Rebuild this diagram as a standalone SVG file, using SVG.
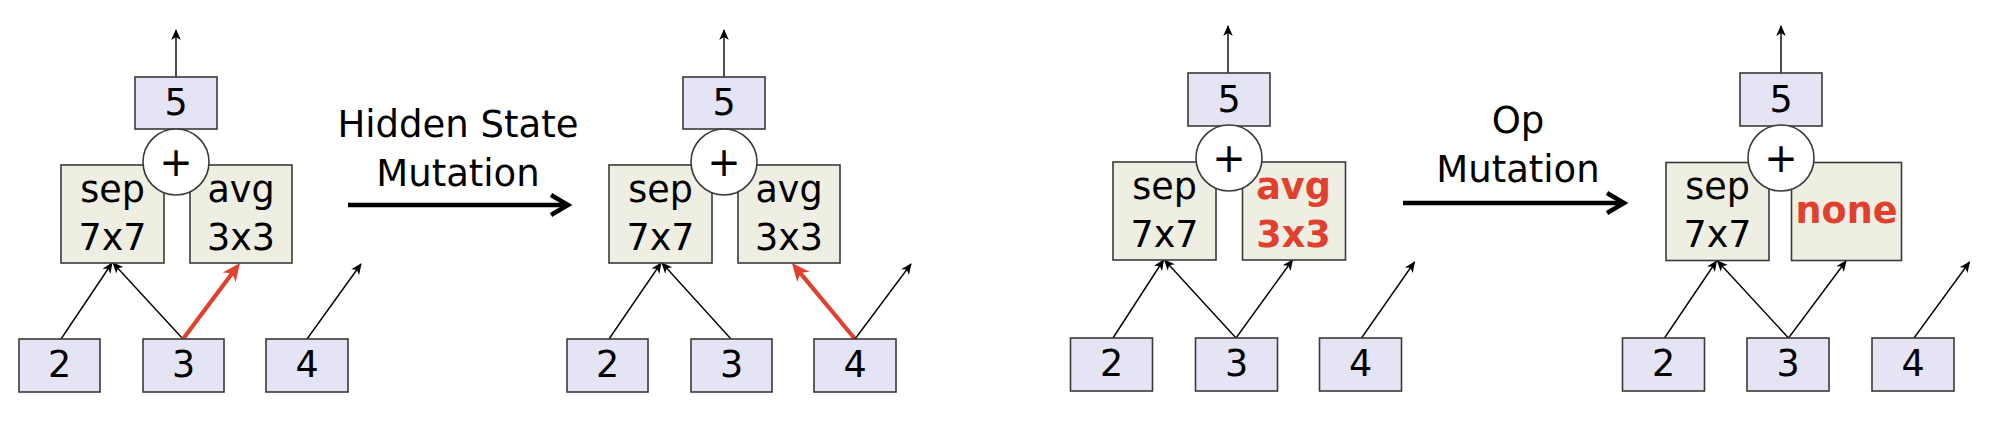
<svg xmlns="http://www.w3.org/2000/svg" width="1999" height="435" viewBox="0 0 1999 435">
<style>
.st{fill:#e4e4f4;stroke:#3a3a3a;stroke-width:1.6}
.op{fill:#efeee3;stroke:#3a3a3a;stroke-width:1.6}
.pl{fill:#ffffff;stroke:#3a3a3a;stroke-width:1.6}
text{font-family:"DejaVu Sans","Liberation Sans",sans-serif;font-size:36.5px;fill:#000;text-anchor:middle}
.lbl{font-size:37px}
.plus{font-size:40px}
.red{fill:#e0402e;font-weight:bold}
.e{stroke:#000;stroke-width:1.4;fill:none;marker-end:url(#ah)}
.er{stroke:#e0402e;stroke-width:4.2;fill:none;marker-end:url(#ahr)}
.big{stroke:#000;stroke-width:4.5;fill:none;marker-end:url(#chev)}
</style>
<defs>
<marker id="ah" markerUnits="userSpaceOnUse" markerWidth="20" markerHeight="20" orient="auto" overflow="visible" refX="0" refY="0">
<path d="M1,0 L-10,-4.8 L-7,0 L-10,4.8 Z" fill="#000"/>
</marker>
<marker id="ahr" markerUnits="userSpaceOnUse" markerWidth="30" markerHeight="30" orient="auto" overflow="visible" refX="0" refY="0">
<path d="M8,0 L-10,-8 L-5,0 L-10,8 Z" fill="#e0402e"/>
</marker>
<marker id="chev" markerUnits="userSpaceOnUse" markerWidth="40" markerHeight="40" orient="auto" overflow="visible" refX="0" refY="0">
<path d="M-17,-10 L0,0 L-17,10" fill="none" stroke="#000" stroke-width="4.5"/>
</marker>
</defs>
<rect width="1999" height="435" fill="#ffffff"/>

<g id="connectors">
<g transform="translate(0,0)">
<line class="e" x1="176" y1="77" x2="176" y2="30"/>
<line class="e" x1="61" y1="339" x2="112" y2="263"/>
<line class="e" x1="183" y1="339" x2="113" y2="263"/>
<line class="er" x1="183" y1="339" x2="235.2" y2="269.3"/>
<line class="e" x1="307" y1="339" x2="361" y2="264"/>
</g>
<g transform="translate(548,0)">
<line class="e" x1="176" y1="77" x2="176" y2="30"/>
<line class="e" x1="61" y1="339" x2="113" y2="263"/>
<line class="e" x1="183" y1="339" x2="114" y2="263"/>
<line class="er" x1="307" y1="339" x2="249" y2="269.2"/>
<line class="e" x1="307" y1="339" x2="363" y2="264"/>
</g>
<g transform="translate(1052,-3)">
<line class="e" x1="176" y1="76" x2="176" y2="29"/>
<line class="e" x1="61" y1="341" x2="111.5" y2="263"/>
<line class="e" x1="184" y1="341" x2="112.5" y2="263"/>
<line class="e" x1="184" y1="341" x2="240.5" y2="263"/>
<line class="e" x1="309.5" y1="341" x2="362.5" y2="265"/>
</g>
<g transform="translate(1605,-3)">
<line class="e" x1="176" y1="76" x2="176" y2="29"/>
<line class="e" x1="59.5" y1="341" x2="111.5" y2="264"/>
<line class="e" x1="183.5" y1="341" x2="112.5" y2="264"/>
<line class="e" x1="183.5" y1="341" x2="241" y2="264"/>
<line class="e" x1="309" y1="341" x2="364.5" y2="265"/>
</g>
<line class="big" x1="348" y1="205" x2="568" y2="205"/>
<line class="big" x1="1403" y1="203" x2="1624" y2="203"/>
</g>

<g id="label-hidden">
<text class="lbl" x="458" y="137">Hidden State</text>
<text class="lbl" x="458" y="186">Mutation</text>
</g>
<g id="label-op">
<text class="lbl" x="1518" y="133">Op</text>
<text class="lbl" x="1518" y="182">Mutation</text>
</g>

<!-- Panel 1 -->
<g transform="translate(0,0)">
<g id="p1-n5"><rect class="st" x="135" y="77" width="82" height="52"/><text x="176" y="115">5</text></g>
<g id="p1-sep"><rect class="op" x="61" y="165" width="103" height="98"/><text x="112.5" y="202">sep</text><text x="112.5" y="250">7x7</text></g>
<g id="p1-avg"><rect class="op" x="190" y="165" width="102" height="98"/><text x="241" y="202">avg</text><text x="241" y="250">3x3</text></g>
<g id="p1-add"><circle class="pl" cx="176" cy="162" r="33"/><text class="plus" x="176" y="175.5">+</text></g>
<g id="p1-n2"><rect class="st" x="19" y="339" width="81" height="53"/><text x="59.5" y="377">2</text></g>
<g id="p1-n3"><rect class="st" x="143" y="339" width="81" height="53"/><text x="183.5" y="377">3</text></g>
<g id="p1-n4"><rect class="st" x="266" y="339" width="82" height="53"/><text x="307" y="377">4</text></g>
</g>

<!-- Panel 2 -->
<g transform="translate(548,0)">
<g id="p2-n5"><rect class="st" x="135" y="77" width="82" height="52"/><text x="176" y="115">5</text></g>
<g id="p2-sep"><rect class="op" x="61" y="165" width="103" height="98"/><text x="112.5" y="202">sep</text><text x="112.5" y="250">7x7</text></g>
<g id="p2-avg"><rect class="op" x="190" y="165" width="102" height="98"/><text x="241" y="202">avg</text><text x="241" y="250">3x3</text></g>
<g id="p2-add"><circle class="pl" cx="176" cy="162" r="33"/><text class="plus" x="176" y="175.5">+</text></g>
<g id="p2-n2"><rect class="st" x="19" y="339" width="81" height="53"/><text x="59.5" y="377">2</text></g>
<g id="p2-n3"><rect class="st" x="143" y="339" width="81" height="53"/><text x="183.5" y="377">3</text></g>
<g id="p2-n4"><rect class="st" x="266" y="339" width="82" height="53"/><text x="307" y="377">4</text></g>
</g>

<!-- Panel 3 -->
<g transform="translate(1052,-3)">
<g id="p3-n5"><rect class="st" x="136" y="76" width="82" height="53"/><text x="177" y="115">5</text></g>
<g id="p3-sep"><rect class="op" x="61" y="165" width="103" height="98"/><text x="112.5" y="202">sep</text><text x="112.5" y="250">7x7</text></g>
<g id="p3-avg"><rect class="op" x="190.5" y="165" width="103" height="98"/><text class="red" x="241.5" y="202">avg</text><text class="red" x="241.5" y="250">3x3</text></g>
<g id="p3-add"><circle class="pl" cx="177" cy="161" r="33"/><text class="plus" x="177" y="174.5">+</text></g>
<g id="p3-n2"><rect class="st" x="18.5" y="341" width="82" height="53"/><text x="59.5" y="379">2</text></g>
<g id="p3-n3"><rect class="st" x="143.5" y="341" width="82" height="53"/><text x="184.5" y="379">3</text></g>
<g id="p3-n4"><rect class="st" x="267.5" y="341" width="82" height="53"/><text x="308.5" y="379">4</text></g>
</g>

<!-- Panel 4 -->
<g transform="translate(1605,-3)">
<g id="p4-n5"><rect class="st" x="135" y="76" width="82" height="53"/><text x="176" y="115">5</text></g>
<g id="p4-sep"><rect class="op" x="61" y="165.5" width="103" height="98"/><text x="112.5" y="202">sep</text><text x="112.5" y="250">7x7</text></g>
<g id="p4-none"><rect class="op" x="186.5" y="165.5" width="110" height="98"/><text class="red" x="241.5" y="225.5">none</text></g>
<g id="p4-add"><circle class="pl" cx="176" cy="161" r="33"/><text class="plus" x="176" y="174.5">+</text></g>
<g id="p4-n2"><rect class="st" x="17.5" y="341" width="82" height="53"/><text x="58.5" y="379">2</text></g>
<g id="p4-n3"><rect class="st" x="142" y="341" width="82" height="53"/><text x="183" y="379">3</text></g>
<g id="p4-n4"><rect class="st" x="267" y="341" width="82" height="53"/><text x="308" y="379">4</text></g>
</g>
</svg>
